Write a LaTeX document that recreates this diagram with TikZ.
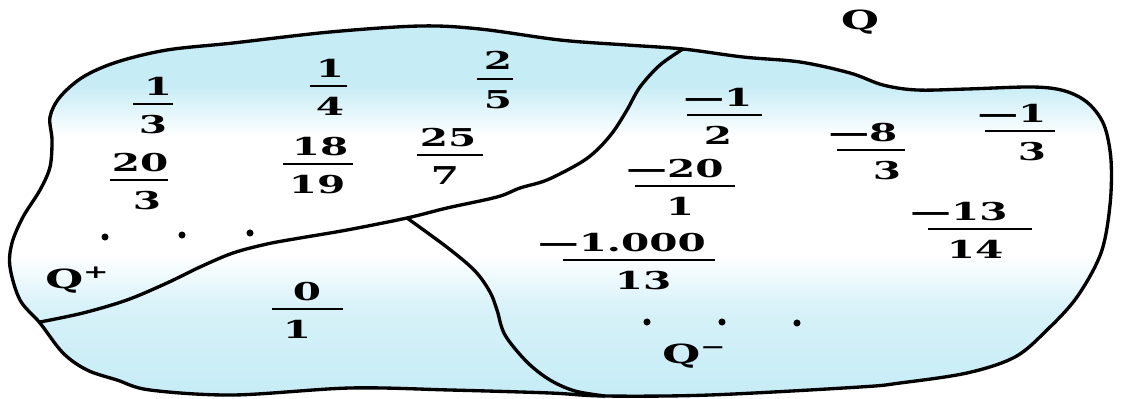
\documentclass[tikz,border=0pt]{standalone}
\usepackage{fontspec}
\newfontfamily\ratfont{DejaVu Serif}[FakeStretch=1.65]
\definecolor{qblue}{RGB}{198,236,246}
\pgfdeclareverticalshading{qwash}{100bp}{color(0bp)=(qblue); color(25bp)=(qblue); color(37bp)=(qblue!70!white); color(44bp)=(white); color(60bp)=(white); color(67bp)=(qblue); color(75bp)=(qblue); color(100bp)=(qblue)}

\begin{document}
\begin{tikzpicture}[x=0.02cm, y=-0.02cm,
    numeral/.style={font=\ratfont\bfseries\fontsize{14}{17}\selectfont, inner sep=0pt},
    fracbar/.style={line width=1.3pt},
    border/.style={line width=1.9pt}]
    \useasboundingbox (0,0) rectangle (1134,399);

    \shadedraw[border, shading=qwash] plot[smooth cycle, tension=0.55] coordinates {
        (60,97) (83,77) (117,62) (167,50) (233,43) (330,32) (420,26) (480,29)
        (560,40) (627,45) (683,49) (743,57) (800,62) (850,73) (883,85) (917,90)
        (967,89) (1033,87) (1065,91) (1088,103) (1104,125) (1111,160) (1110,205)
        (1101,253) (1077,297) (1047,330) (1015,357) (967,373) (900,383) (860,387)
        (710,395) (605,396) (550,393) (450,390) (350,388) (233,395) (150,390)
        (117,380) (87,370) (63,353) (40,323) (20,300) (10,267) (12,243) (23,217)
        (40,190) (50,167) (52,140) (50,117)};

    \draw[border] plot[smooth, tension=0.55] coordinates {
        (683,49) (660,65) (640,87) (627,110) (613,132) (597,150) (580,163)
        (547,180) (520,188) (497,197) (447,208) (407,218) (347,230) (300,238)
        (267,244) (233,253) (200,267) (167,283) (127,300) (83,313) (40,322)};

    \draw[border] plot[smooth, tension=0.55] coordinates {
        (407,218) (448,248) (475,271) (490,292) (497,310) (505,335) (527,362)
        (550,380) (575,391) (605,396)};

    \foreach \tag/\num/\den/\xn/\xd/\yb/\xl/\xr in {
        a/1/3/158/153/104/133/173,
        b/1/4/330/330/86/310/347,
        c/2/5/498/498/79/477/513,
        d/20/3/140/147/180/110/168,
        e/18/19/320/317/164/283/353,
        f/25/7/448/445/155/417/483,
        g/0/1/307/297/309/272/343,
        h/—1/2/718/718/115/687/762,
        i/—20/1/675/680/186/635/735,
        j/—1.000/13/622/643/260/563/715,
        k/—8/3/863/887/150/837/905,
        l/—1/3/1012/1032/131/985/1055,
        m/—13/14/959/975/229/928/1032}
    {
        \node[numeral, anchor=base] (n\tag) at (\xn,\yb-9) {\num};
        \node[numeral, anchor=base] (d\tag) at (\xd,\yb+29) {\den};
        \draw[fracbar] (\xl,\yb) -- (\xr,\yb);
    }

    \foreach \dx/\dy in {105/237, 182/235, 250/233, 647/322, 722/322, 797/323}
        \fill (\dx,\dy) circle[radius=2pt];

    \node[numeral, font=\ratfont\bfseries\fontsize{15}{18}\selectfont] (qall) at (860,22) {Q};
    \node[numeral, font=\ratfont\bfseries\fontsize{15}{18}\selectfont, anchor=base west] (qpos) at (45,288) {Q\textsuperscript{+}};
    \node[numeral, font=\ratfont\bfseries\fontsize{15}{18}\selectfont, anchor=base west] (qneg) at (662,363) {Q\textsuperscript{−}};
\end{tikzpicture}
\end{document}
